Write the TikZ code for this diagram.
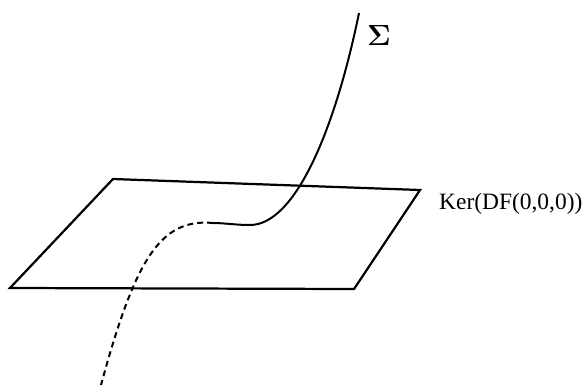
\documentclass[tikz,border=0pt]{standalone}
\usepackage{fontspec}
\setmainfont{Liberation Serif}

\begin{document}
\begin{tikzpicture}[x=0.03cm,y=-0.03cm,
 plane/.style={line width=1.9pt,line join=miter},
 branch/.style={line width=1.7pt},
 hidden/.style={branch,dash pattern=on 5pt off 3.5pt},
 lbl/.style={anchor=base west,inner sep=0pt}]
\useasboundingbox (0,0) rectangle (587,386);
\coordinate (p1) at (10,288);
\coordinate (p2) at (113,179);
\coordinate (p3) at (420,190);
\coordinate (p4) at (354,289);
\draw[plane] (p1) -- (p2) -- (p3) -- (p4) -- cycle;
\coordinate (top) at (359,13);
\coordinate (flat) at (250,225);
\coordinate (gap) at (213,223);
\coordinate (low) at (101,385);
\draw[branch] (top) .. controls (335,130) and (295,225) .. (flat) .. controls (235,225) and (225,223) .. (gap);
\draw[hidden] (gap) .. controls (160,218) and (135,260) .. (low);
\node[lbl,font=\fontsize{24.88}{30}\selectfont\boldmath] (sig) at (367,45) {$\Sigma$};
\node[lbl,font=\fontsize{20}{24}\selectfont] (ker) at (439,209.5) {Ker(DF(0,0,0))};
\end{tikzpicture}
\end{document}
